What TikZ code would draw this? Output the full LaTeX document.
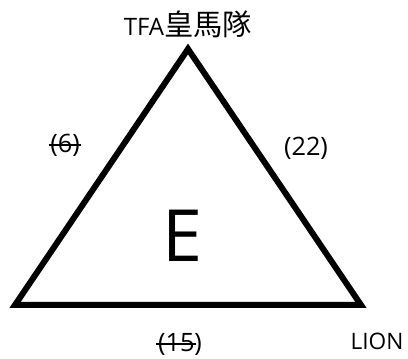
\documentclass[tikz,border=0pt]{standalone}
\usepackage{fontspec}
\setmainfont{Open Sans}
\newfontfamily\cjk{Noto Sans CJK TC}
\tikzset{lbl/.style={inner sep=0pt, font=\fontsize{#1}{#1}\selectfont},
  lbl/.default=19,
  strike/.style={line width=1.2pt}}
\begin{document}
\begin{tikzpicture}[x=0.75pt,y=-0.75pt]
\useasboundingbox (0,0) rectangle (408,359);
\coordinate (apex) at (188,49);
\coordinate (bl) at (15,305);
\coordinate (br) at (361,305);
\draw[line width=4.5pt, line join=miter] (apex) -- (br) -- (bl) -- cycle;
\node[lbl=18] (tfa) at (188,24) {TFA{\cjk\fontsize{22}{26}\selectfont 皇馬隊}};
\node[lbl] (six) at (65,145) {(6)};
\node[lbl] (twotwo) at (306,148) {(22)};
\node[lbl] (onefive) at (180,344) {(15)};
\node[lbl=17] (lion) at (377,341) {LION};
\node[inner sep=0pt, font=\fontsize{54}{60}\selectfont] (e) at (183,236) {E};
% strike-throughs
\draw[strike] ([xshift=-1pt]six.west) -- ([xshift=1pt]six.east);
\draw[strike] ([xshift=-1pt]onefive.west) -- ([xshift=-5pt]onefive.east);
\end{tikzpicture}
\end{document}
